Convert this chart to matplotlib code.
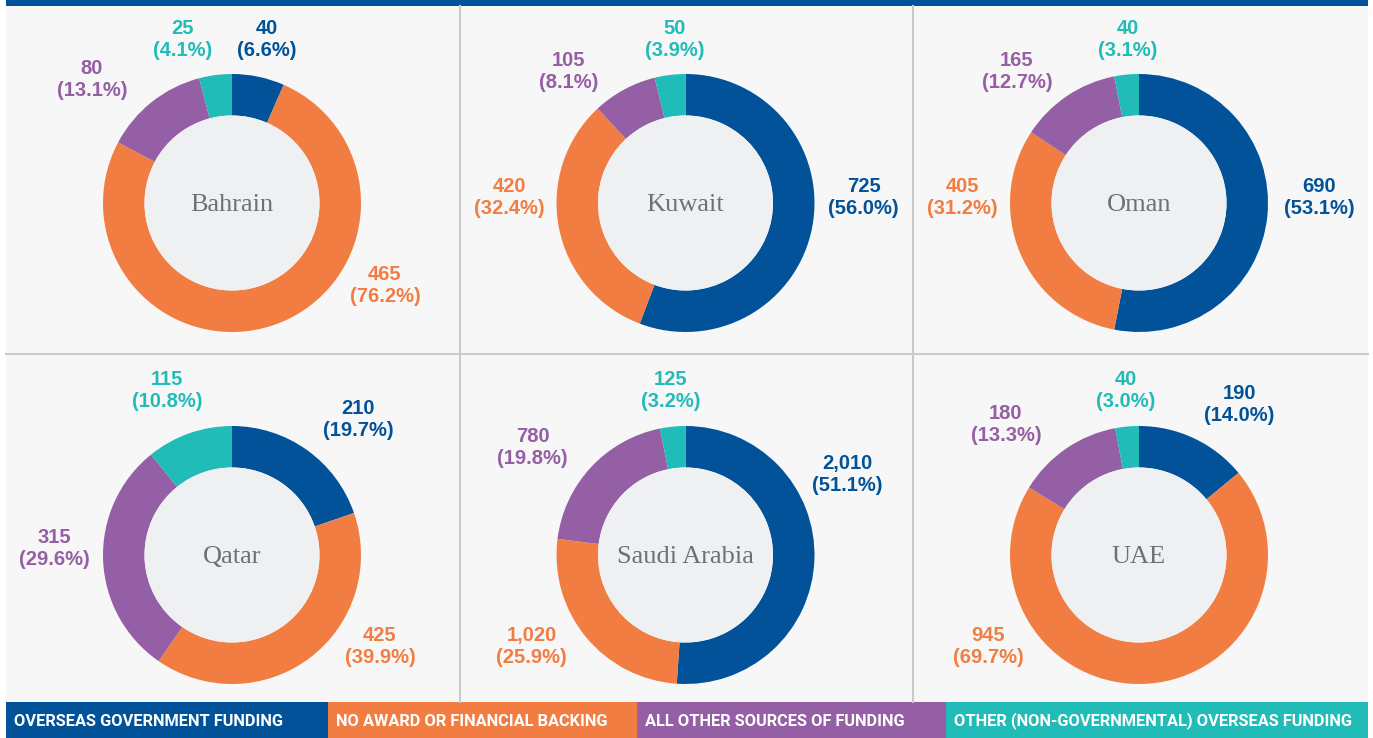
import matplotlib
matplotlib.use("Agg")
import matplotlib.pyplot as plt
from matplotlib.patches import Rectangle, Circle

# data
countries = ["Bahrain", "Kuwait", "Oman", "Qatar", "Saudi Arabia", "UAE"]
gov_funding = [40, 725, 690, 210, 2010, 190]
no_award = [465, 420, 405, 425, 1020, 945]
all_other = [80, 105, 165, 315, 780, 180]
other_overseas = [25, 50, 40, 115, 125, 40]

gov_pct = [6.6, 56.0, 53.1, 19.7, 51.1, 14.0]
no_award_pct = [76.2, 32.4, 31.2, 39.9, 25.9, 69.7]
all_other_pct = [13.1, 8.1, 12.7, 29.6, 19.8, 13.3]
other_overseas_pct = [4.1, 3.9, 3.1, 10.8, 3.2, 3.0]

legend_labels = ["OVERSEAS GOVERNMENT FUNDING", "NO AWARD OR FINANCIAL BACKING",
                 "ALL OTHER SOURCES OF FUNDING", "OTHER (NON-GOVERNMENTAL) OVERSEAS FUNDING"]

colors = ["#02529a", "#f27d42", "#955fa5", "#22bcb8"]

# layout (pixels)
W, H = 1373, 738
centers = [(232, 203), (685.5, 203), (1139, 203), (232, 555), (685.5, 555), (1139, 555)]
# label offsets from pie centre, order: gov, no award, all other, other overseas
label_offsets = [
    [(35, 163), (153, -83), (-140, 123), (-49, 163)],
    [(178, 5), (-176, 5), (-117, 131), (-11, 163)],
    [(180, 5), (-177, 5), (-122, 131), (-11, 163)],
    [(126, 136), (148, -91), (-178, 7), (-65, 165)],
    [(162, 81), (-154, -91), (-153, 108), (-15, 165)],
    [(100, 151), (-151, -91), (-133, 131), (-13, 165)],
]
legend_x = [6, 328, 637, 946, 1368]
legend_text_w = [285, 287, 279, 400]   # text widths in the reference

R_OUT, R_IN = 129, 87.5
num_font = ["Liberation Sans", "DejaVu Sans"]
leg_font = ["Roboto", "Liberation Sans", "DejaVu Sans"]

fig = plt.figure(figsize=(W / 100, H / 100), dpi=100)
fig.patch.set_facecolor("white")

bg = fig.add_axes([0, 0, 1, 1])
bg.set_xlim(0, W)
bg.set_ylim(H, 0)
bg.axis("off")
bg.add_patch(Rectangle((6, 6), 1362, 696, fc="#f7f7f7", ec="none"))
bg.add_patch(Rectangle((6, 0), 1362, 6, fc=colors[0], ec="none"))
bg.plot([459.5, 459.5], [6, 702], color="#c9cacc", lw=1.5)
bg.plot([913, 913], [6, 702], color="#c9cacc", lw=1.5)
bg.plot([6, 1368], [354, 354], color="#c9cacc", lw=1.5)

# legend bar, font size shrunk so the texts fit like the reference
renderer = fig.canvas.get_renderer()
leg_texts = []
scale = 10.0
for i in range(4):
    x0, x1 = legend_x[i], legend_x[i + 1]
    bg.add_patch(Rectangle((x0, 702), x1 - x0, 36, fc=colors[i], ec="none"))
    t = bg.text(x0 + 8, 721, legend_labels[i], color="white", fontsize=14,
                fontweight="bold", family=leg_font, ha="left", va="center")
    w = t.get_window_extent(renderer).width
    scale = min(scale, legend_text_w[i] / w)
    leg_texts.append(t)
for t in leg_texts:
    t.set_fontsize(14 * scale)

half = 200
for k, name in enumerate(countries):
    cx, cy = centers[k]
    ax = fig.add_axes([(cx - half) / W, 1 - (cy + half) / H, 2 * half / W, 2 * half / H])
    ax.patch.set_visible(False)
    vals = [gov_funding[k], no_award[k], all_other[k], other_overseas[k]]
    pcts = [gov_pct[k], no_award_pct[k], all_other_pct[k], other_overseas_pct[k]]
    ax.pie(vals, colors=colors, startangle=90, counterclock=False, radius=R_OUT,
           wedgeprops=dict(width=R_OUT - R_IN, linewidth=0))
    ax.add_patch(Circle((0, 0), R_IN, fc="#eff0f2", ec="none"))
    ax.text(0, -8, name, family=["Liberation Serif", "DejaVu Serif"], fontsize=19,
            color="#6d7177", ha="center", va="baseline")
    for j in range(4):
        dx, dy = label_offsets[k][j]
        ax.text(dx, dy, f"{vals[j]:,}\n({pcts[j]:.1f}%)", color=colors[j],
                fontsize=14.5, fontweight="bold", family=num_font,
                ha="center", va="center", linespacing=1.2)
    ax.set_xlim(-half, half)
    ax.set_ylim(-half, half)
    ax.axis("off")

fig.savefig("out.png", dpi=100, facecolor="white")
